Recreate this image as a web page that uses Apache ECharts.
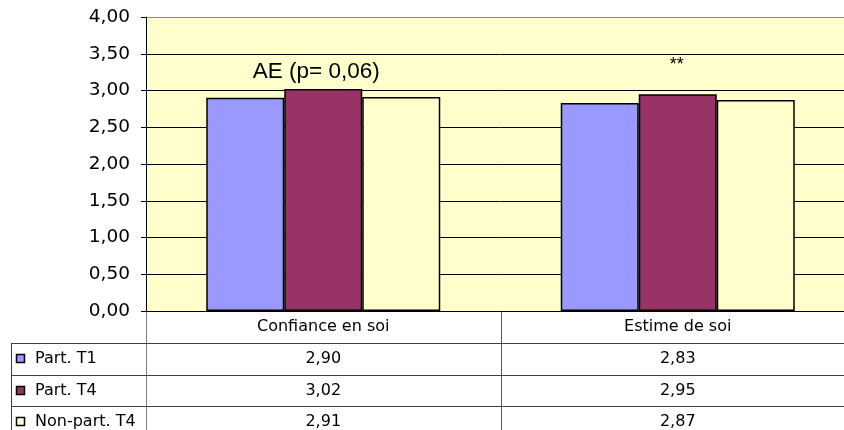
<!DOCTYPE html>
<html><head><meta charset="utf-8">
<script src="https://cdn.jsdelivr.net/npm/echarts@6/dist/echarts.min.js"></script>
<style>html,body{margin:0;padding:0;background:#fff;overflow:hidden;width:844px;height:430px}#c{width:855px;height:430px}</style>
</head><body><div id="c"></div>
<script>
const categories = ['Confiance en soi', 'Estime de soi'];
const seriesNames = ['Part. T1', 'Part. T4', 'Non-part. T4'];
const partT1 = [2.90, 2.83];
const partT4 = [3.02, 2.95];
const nonPartT4 = [2.91, 2.87];
const annotations = ['AE (p= 0,06)', '**'];

const values = [partT1, partT4, nonPartT4];
const colors = ['#9999FF', '#993366', '#FFFFCC'];
const fmt = v => v.toFixed(2).replace('.', ',');
const TF = 'DejaVu Sans';

const chart = echarts.init(document.getElementById('c'), null, {renderer: 'canvas'});

const annStyles = [
  {fontSize: 22.5, fontFamily: 'Liberation Sans', distance: 6, offset: [-7, 0]},
  {fontSize: 18, fontFamily: 'Liberation Sans', distance: 20, offset: [-1, 0]}
];

const series = values.map((arr, i) => ({
  name: seriesNames[i],
  type: 'bar',
  barWidth: 78,
  barGap: '0%',
  itemStyle: {color: colors[i], borderColor: '#000', borderWidth: 1.5},
  data: arr.map((v, j) => {
    const d = {value: v};
    if (i === 1) {
      d.label = Object.assign({
        show: true, position: 'top', color: '#000',
        formatter: annotations[j]
      }, annStyles[j]);
    }
    return d;
  }),
  animation: false
}));

const splitColors = ['#000','#000','#000','#000','#000','#000','#000','#000','#888'];

chart.setOption({
  animation: false,
  grid: {left: 146, right: 0, top: 17, bottom: 119, show: true, backgroundColor: '#FFFFCC', borderWidth: 0},
  xAxis: {
    type: 'category', data: categories,
    axisLine: {show: true, lineStyle: {color: '#000', width: 1}},
    axisTick: {show: false},
    axisLabel: {fontFamily: TF, fontSize: 16, color: '#000', margin: 8, lineHeight: 16}
  },
  yAxis: {
    type: 'value', min: 0, max: 4, interval: 0.5,
    axisLine: {show: true, lineStyle: {color: '#000', width: 1}},
    axisTick: {show: true, length: 5, lineStyle: {color: '#000'}},
    axisLabel: {formatter: v => fmt(v), fontFamily: TF, fontSize: 18.5, color: '#000', margin: 16},
    splitLine: {show: true, lineStyle: {color: splitColors, width: 1}}
  },
  series: series
});

// Data table below the chart
const centers = categories.map(c => chart.convertToPixel({xAxisIndex: 0}, c));
const axisX = 146, axisY = 311;
const boundary = (centers[0] + centers[1]) / 2;
const rowTops = [343, 375, 406];
const rowH = 31.7;
const tableLeft = 11;
const rightEdge = 855;
const g = [];
const lineCol = '#404040';
g.push({type: 'line', shape: {x1: axisX + 0.5, y1: axisY, x2: axisX + 0.5, y2: 430}, style: {stroke: '#808080', lineWidth: 1}, silent: true});
g.push({type: 'line', shape: {x1: Math.round(boundary) + 0.5, y1: axisY, x2: Math.round(boundary) + 0.5, y2: 430}, style: {stroke: '#555', lineWidth: 1}, silent: true});
g.push({type: 'line', shape: {x1: tableLeft + 0.5, y1: rowTops[0], x2: tableLeft + 0.5, y2: 430}, style: {stroke: lineCol, lineWidth: 1}, silent: true});
rowTops.forEach(t => {
  g.push({type: 'line', shape: {x1: tableLeft, y1: t + 0.5, x2: rightEdge, y2: t + 0.5}, style: {stroke: lineCol, lineWidth: 1}, silent: true});
});
seriesNames.forEach((name, i) => {
  const cy = rowTops[i] + rowH / 2;
  g.push({type: 'rect', shape: {x: 16.5, y: Math.round(cy - 4.5) + 0.5, width: 8, height: 8}, style: {fill: colors[i], stroke: '#000', lineWidth: 1.5}, silent: true});
  g.push({type: 'text', x: 35, y: cy, style: {text: name, fontFamily: TF, fontSize: 16, fill: '#000', verticalAlign: 'middle', align: 'left'}, silent: true});
  values[i].forEach((v, j) => {
    g.push({type: 'text', x: centers[j], y: cy, style: {text: fmt(v), fontFamily: TF, fontSize: 16, fill: '#000', verticalAlign: 'middle', align: 'center'}, silent: true});
  });
});
chart.setOption({graphic: g});
</script>
</body></html>
